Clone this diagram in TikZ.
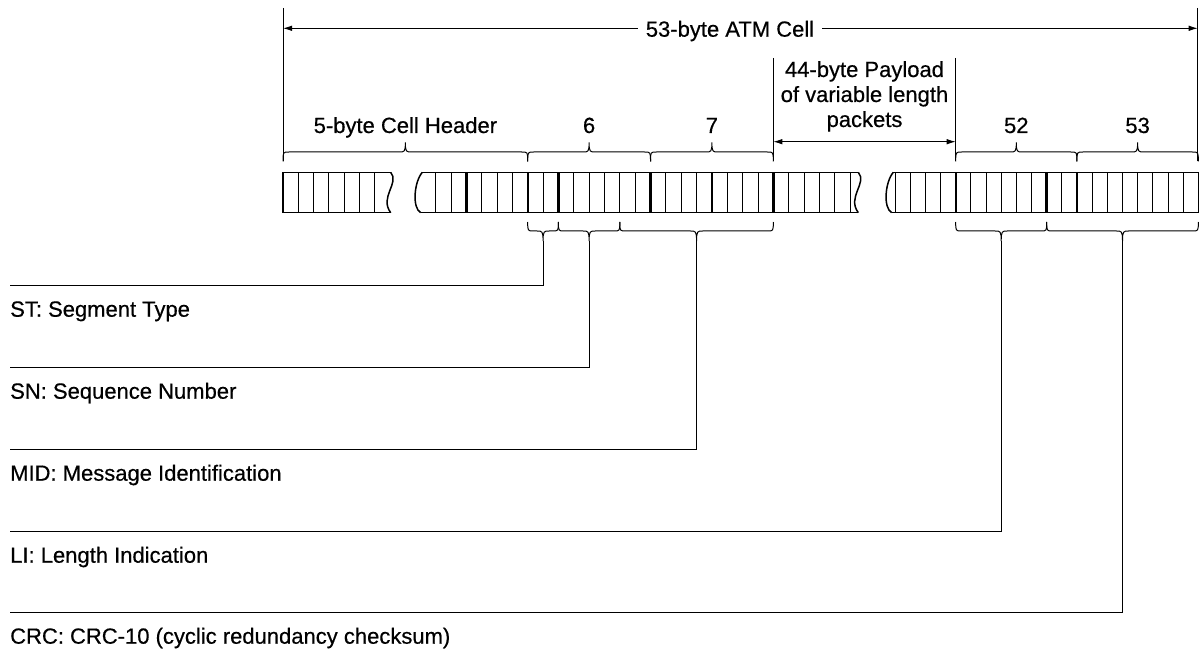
\documentclass[tikz,border=0pt]{standalone}
\usepackage{fontspec}
\setmainfont{Liberation Sans}
\newfontfamily\lblfont{Liberation Sans}[FakeBold=0.5]
\usetikzlibrary{arrows.meta,calc}
\tikzset{
  lbl/.style={inner sep=0pt, anchor=base, font=\lblfont\fontsize{22}{25}\selectfont},
  conn/.style={line width=1pt},
  arr/.style={line width=0.9pt, -{Latex[length=9pt,width=5.5pt]}},
  darr/.style={line width=0.9pt, {Latex[length=9pt,width=5.5pt]}-{Latex[length=9pt,width=5.5pt]}},
  bitline/.style={line width=0.9pt},
  sepline/.style={line width=2.4pt},
  outl/.style={line width=1.5pt},
  brc/.style={line width=1pt},
}
% brace from x=#1 to x=#2, ends at y=#3, middle at y=#4, tip at y=#5
\newcommand{\mybrace}[5]{%
  \pgfmathsetmacro{\bm}{(#1+#2)/2}%
  \draw[brc] (#1,#3) .. controls (#1,#4) .. (#1+6,#4) -- (\bm-6,#4)
     .. controls (\bm-1,#4) and (\bm,#4) .. (\bm,#5)
     .. controls (\bm,#4) and (\bm+1,#4) .. (\bm+6,#4) -- (#2-6,#4)
     .. controls (#2,#4) .. (#2,#3);%
}
\begin{document}
\begin{tikzpicture}[x=1pt,y=-1pt]
\useasboundingbox (0,0) rectangle (1201,652);

% ---------- top dimension: 53-byte ATM cell ----------
\coordinate (lvTop) at (283,8);
\coordinate (lvBot) at (283,161.5);
\coordinate (rvTop) at (1197.7,8);
\coordinate (rvBot) at (1197.7,161.5);
\coordinate (tl) at (283,28.3);
\coordinate (tr) at (1197.7,28.3);
\draw[conn] (lvTop) -- (lvBot);
\draw[conn] (rvTop) -- (rvBot);
\node[lbl, inner xsep=8pt] (title) at (730,36.7) {53-byte ATM Cell};
\draw[arr] (title.west |- tl) -- (tl);
\draw[arr] (title.east |- tr) -- (tr);

% ---------- payload dimension ----------
\coordinate (pvlTop) at (773.3,58);
\coordinate (pvlBot) at (773.3,161.5);
\coordinate (pvrTop) at (955.7,58);
\coordinate (pvrBot) at (955.7,161.5);
\draw[conn] (pvlTop) -- (pvlBot);
\draw[conn] (pvrTop) -- (pvrBot);
\coordinate (pal) at (773.3,141.7);
\coordinate (par) at (955.7,141.7);
\draw[darr] (pal) -- (par);
\node[lbl] (pay1) at (864.5,77) {44-byte Payload};
\node[lbl] (pay2) at (864.5,102) {of variable length};
\node[lbl] (pay3) at (864.5,127) {packets};

% ---------- labels over top braces ----------
\node[lbl] (hdr) at (405.4,133) {5-byte Cell Header};
\node[lbl] (b6) at (589.1,133) {6};
\node[lbl] (b7) at (711.9,133) {7};
\node[lbl] (b52) at (1016.3,133) {52};
\node[lbl] (b53) at (1137.6,133) {53};

% ---------- top braces ----------
\mybrace{283}{527.7}{161.5}{152}{142.5}
\mybrace{527.7}{650.5}{161.5}{152}{142.5}
\mybrace{650.5}{773.3}{161.5}{152}{142.5}
\mybrace{955.7}{1076.9}{161.5}{152}{142.5}
\mybrace{1076.9}{1198.3}{161.5}{152}{142.5}

% ---------- cell blocks ----------
% block 1
\foreach \k in {1,...,6} \draw[bitline] (283+\k*15.3,172.3) -- (283+\k*15.3,212.7);
\draw[outl] (390.7,172.3) -- (283,172.3) -- (283,212.7) -- (390.7,212.7);
\draw[outl] (390.7,172.3) .. controls (400,183) and (379,197) .. (390.7,212.7);
% block 2
\foreach \k in {-6,...,21} \draw[bitline] (527.7+\k*15.35,172.3) -- (527.7+\k*15.35,212.7);
\foreach \k in {-4,0,2,8,12,16} \draw[sepline] (527.7+\k*15.35,172.3) -- (527.7+\k*15.35,212.7);
\draw[outl] (422.3,172.3) -- (858.3,172.3);
\draw[outl] (420.7,212.7) -- (858.3,212.7);
\draw[outl] (422.3,172.3) .. controls (414,182) and (412,208) .. (420.7,212.7);
\draw[outl] (858.3,172.3) .. controls (867.6,183) and (846.6,197) .. (858.3,212.7);
% block 3
\foreach \k in {-4,...,15} \draw[bitline] (955.7+\k*15.16,172.3) -- (955.7+\k*15.16,212.7);
\foreach \k in {0,6,8} \draw[sepline] (955.7+\k*15.16,172.3) -- (955.7+\k*15.16,212.7);
\draw[outl] (893.3,172.3) -- (1198.3,172.3) -- (1198.3,212.7) -- (891.7,212.7);
\draw[outl] (893.3,172.3) .. controls (885,182) and (883,208) .. (891.7,212.7);

% ---------- lower braces ----------
\mybrace{527.7}{558.4}{222}{231}{241}
\mybrace{558.4}{619.8}{222}{231}{241}
\mybrace{619.8}{773.3}{222}{231}{241}
\mybrace{955.7}{1046.7}{222}{231}{241}
\mybrace{1046.7}{1198.3}{222}{231}{241}

% ---------- field labels and leaders ----------
\coordinate (stTip) at (543.05,241);
\coordinate (snTip) at (589.1,241);
\coordinate (midTip) at (696.55,241);
\coordinate (liTip) at (1001.2,241);
\coordinate (crcTip) at (1122.5,241);
\coordinate (stEnd) at (10,285);
\coordinate (snEnd) at (10,367);
\coordinate (midEnd) at (10,449);
\coordinate (liEnd) at (10,531);
\coordinate (crcEnd) at (10,612);
\draw[conn] (stTip) |- (stEnd);
\draw[conn] (snTip) |- (snEnd);
\draw[conn] (midTip) |- (midEnd);
\draw[conn] (liTip) |- (liEnd);
\draw[conn] (crcTip) |- (crcEnd);
\node[lbl, anchor=base west] (st) at (10,316.7) {ST: Segment Type};
\node[lbl, anchor=base west] (sn) at (10,398.7) {SN: Sequence Number};
\node[lbl, anchor=base west] (mid) at (10,480.7) {MID: Message Identification};
\node[lbl, anchor=base west] (li) at (10,562.7) {LI: Length Indication};
\node[lbl, anchor=base west] (crc) at (10,643.7) {CRC: CRC-10 (cyclic redundancy checksum)};
\end{tikzpicture}
\end{document}
